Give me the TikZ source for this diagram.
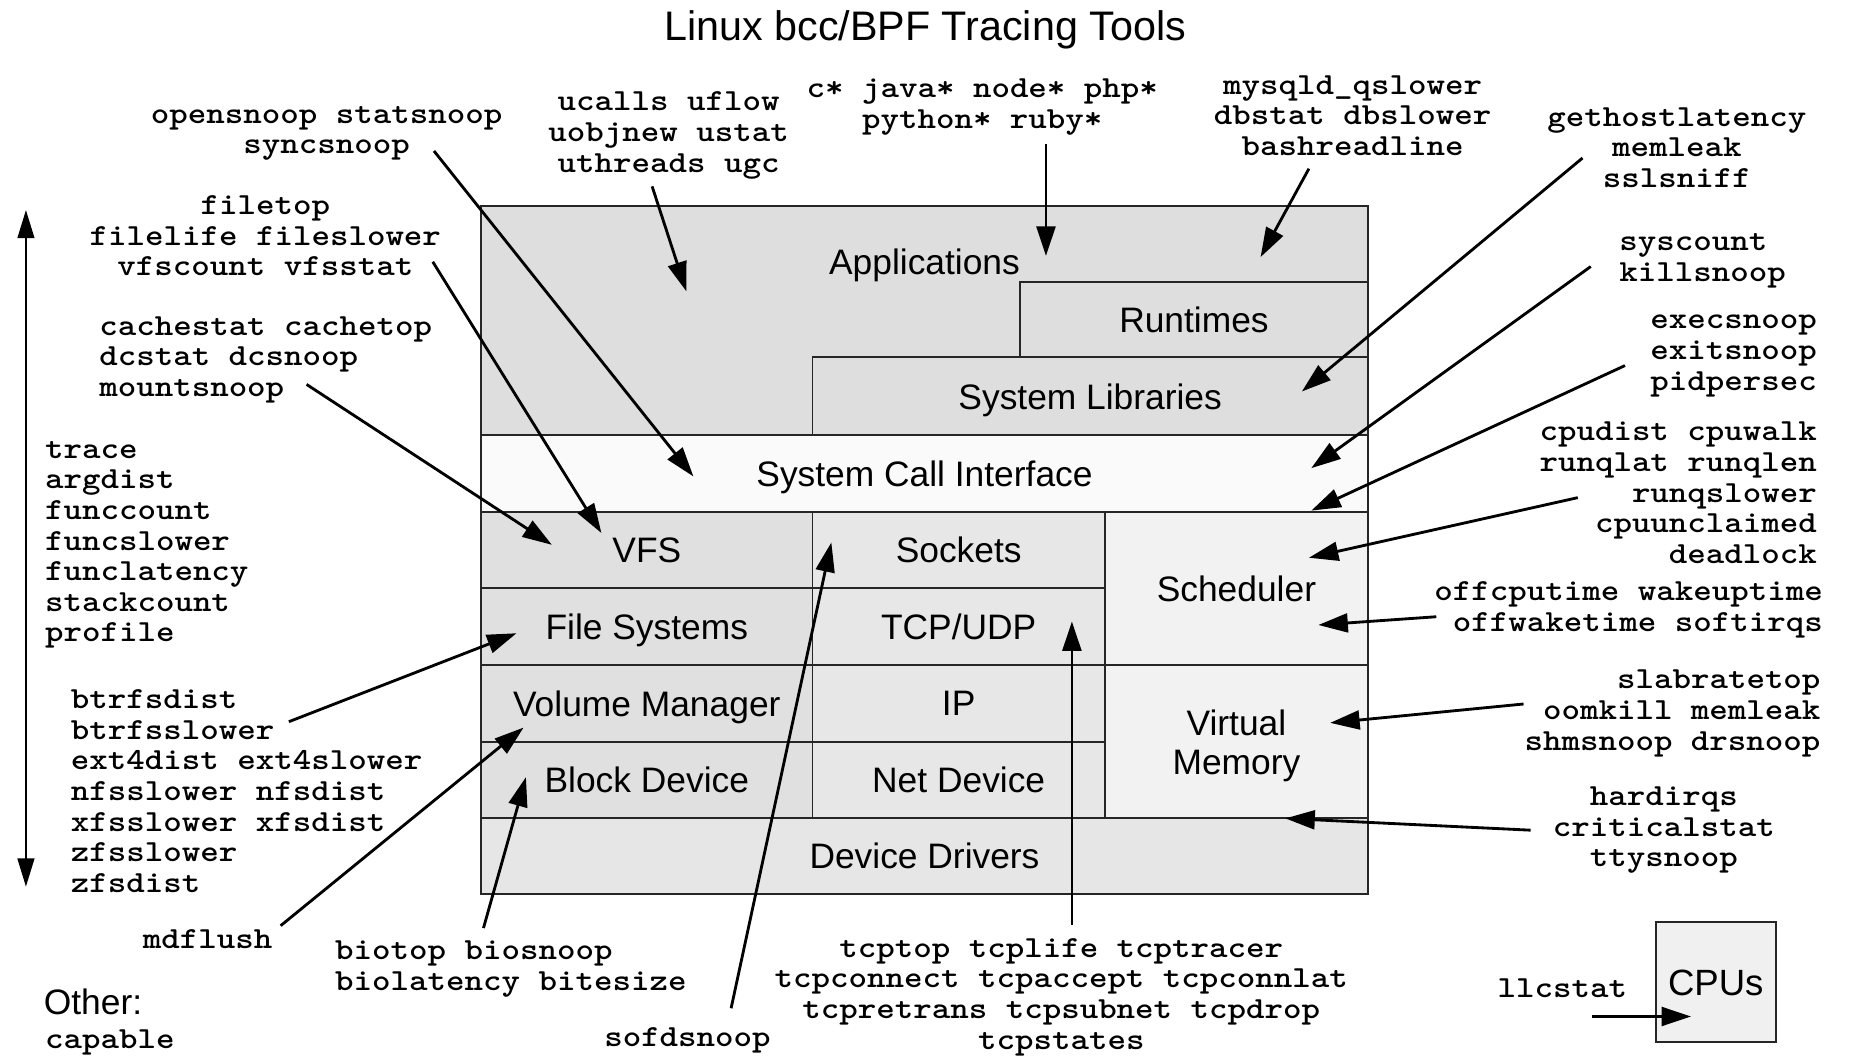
\documentclass[tikz,border=0pt]{standalone}
\usepackage{fontspec}
\setmainfont{Liberation Sans}
\newfontfamily\tooltt{Latin Modern Mono Light}[FakeStretch=1.149]
\usetikzlibrary{arrows.meta}
\definecolor{appgray}{HTML}{DEDEDE}
\definecolor{scigray}{HTML}{FAFAFA}
\definecolor{fsgray}{HTML}{E0E0E0}
\definecolor{netgray}{HTML}{E7E7E7}
\definecolor{schgray}{HTML}{F2F2F2}
\definecolor{drvgray}{HTML}{E6E6E6}
\definecolor{cpugray}{HTML}{F0F0F0}
\begin{document}
\begin{tikzpicture}[x=1pt,y=-1pt,
  layer/.style={draw=black!85, line width=1.6pt, rectangle, inner sep=0pt, font=\fontsize{30}{33}\selectfont, align=center, text depth=0pt},
  tool/.style={inner sep=0pt, font=\fontsize{26}{26}\selectfont\tooltt\bfseries},
  ml/.style={yshift=-3pt},
  sanslabel/.style={inner sep=0pt, font=\fontsize{30}{33}\selectfont},
  arr/.style={line width=2.4pt, -{Triangle[length=25pt,width=16pt]}},
]
\useasboundingbox (0,0) rectangle (1568,895);

% title
\node[inner sep=0pt, text depth=0pt, font=\fontsize{35}{38}\selectfont] (title) at (784.5,22) {Linux bcc/BPF Tracing Tools};

% stack layers
\node[layer, fill=appgray, minimum width=752pt, minimum height=194pt] (apps) at (784,272) {};
\node[sanslabel, text depth=0pt] (appstext) at (784,222) {Applications};
\node[layer, fill=appgray, minimum width=295pt, minimum height=64pt] (rt) at (1012.5,271) {Runtimes};
\node[layer, fill=appgray, minimum width=471pt, minimum height=66pt] (slib) at (924.5,336) {System Libraries};
\node[layer, fill=scigray, minimum width=752pt, minimum height=65pt] (sci) at (784,401.5) {System Call Interface};
\node[layer, fill=fsgray, minimum width=281pt, minimum height=65pt] (vfs) at (548.5,466.5) {VFS};
\node[layer, fill=fsgray, minimum width=281pt, minimum height=65pt] (fs) at (548.5,531.5) {File Systems};
\node[layer, fill=fsgray, minimum width=281pt, minimum height=65pt] (vm) at (548.5,596.5) {Volume Manager};
\node[layer, fill=fsgray, minimum width=281pt, minimum height=65pt] (bd) at (548.5,661.5) {Block Device};
\node[layer, fill=netgray, minimum width=248pt, minimum height=65pt] (sock) at (813,466.5) {Sockets};
\node[layer, fill=netgray, minimum width=248pt, minimum height=65pt] (tcpudp) at (813,531.5) {TCP/UDP};
\node[layer, fill=netgray, minimum width=248pt, minimum height=65pt] (ip) at (813,596.5) {IP};
\node[layer, fill=netgray, minimum width=248pt, minimum height=65pt] (nd) at (813,661.5) {Net Device};
\node[layer, fill=schgray, minimum width=223pt, minimum height=130pt] (sched) at (1048.5,499) {Scheduler};
\node[layer, fill=schgray, minimum width=223pt, minimum height=130pt] (virt) at (1048.5,629) {Virtual\\Memory};
\node[layer, fill=drvgray, minimum width=752pt, minimum height=64pt] (drv) at (784,726) {Device Drivers};
\node[layer, fill=cpugray, minimum width=102pt, minimum height=102pt, font=\fontsize{31}{33}\selectfont] (cpus) at (1455,833) {CPUs};

% tool labels
\node[tool, ml, align=center] (topen) at (277,110) {opensnoop statsnoop\\syncsnoop};
\node[tool, ml, align=center] (tfile) at (225,197) {filetop\\filelife fileslower\\vfscount vfsstat};
\node[tool, ml, align=left, anchor=west] (tcache) at (84,302) {cachestat cachetop\\dcstat dcsnoop\\mountsnoop};
\node[tool, ml, align=left, anchor=west] (ttrace) at (38,459) {trace\\argdist\\funccount\\funcslower\\funclatency\\stackcount\\profile};
\node[tool, ml, align=left, anchor=west] (tbtrfs) at (60,668) {btrfsdist\\btrfsslower\\ext4dist ext4slower\\nfsslower nfsdist\\xfsslower xfsdist\\zfsslower\\zfsdist};
\node[tool] (tmd) at (176,796) {mdflush};
\node[tool, ml, align=left, anchor=west] (tbio) at (284,819) {biotop biosnoop\\biolatency bitesize};
\node[tool] (tsofd) at (583,882) {sofdsnoop};
\node[tool, ml, align=center] (ttcp) at (900,842.5) {tcptop tcplife tcptracer\\tcpconnect tcpaccept tcpconnlat\\tcpretrans tcpsubnet tcpdrop\\tcpstates};
\node[tool] (tllc) at (1325,838) {llcstat};
\node[tool, ml, align=center] (thard) at (1411,701) {hardirqs\\criticalstat\\ttysnoop};
\node[tool, ml, align=right, anchor=east] (tslab) at (1544,602) {slabratetop\\oomkill memleak\\shmsnoop drsnoop};
\node[tool, ml, align=right, anchor=east] (toff) at (1546,514) {offcputime wakeuptime\\offwaketime softirqs};
\node[tool, ml, align=right, anchor=east] (tcpu) at (1541,415) {cpudist cpuwalk\\runqlat runqlen\\runqslower\\cpuunclaimed\\deadlock};
\node[tool, ml, align=right, anchor=east] (texec) at (1541,299) {execsnoop\\exitsnoop\\pidpersec};
\node[tool, ml, align=left, anchor=west] (tsys) at (1373,218) {syscount\\killsnoop};
\node[tool, ml, align=center] (tget) at (1422,122) {gethostlatency\\memleak\\sslsniff};
\node[tool, ml, align=center] (tmysql) at (1147,95) {mysqld\_qslower\\dbstat dbslower\\bashreadline};
\node[tool, ml, align=center] (tjava) at (833,88) {c* java* node* php*\\python* ruby*};
\node[tool, ml, align=center] (tucalls) at (567,112) {ucalls uflow\\uobjnew ustat\\uthreads ugc};
\node[sanslabel, anchor=west] (tother) at (37,850) {Other:};
\node[tool, anchor=west] (tcap) at (38,884) {capable};

% connector end points
\coordinate (a1s) at (368,128);  \coordinate (a1e) at (588,404);
\coordinate (a2s) at (553,158);  \coordinate (a2e) at (582,247);
\coordinate (a3s) at (887,122);  \coordinate (a3e) at (887,217);
\coordinate (a4s) at (1110,143); \coordinate (a4e) at (1069,218);
\coordinate (a5s) at (1342,134); \coordinate (a5e) at (1104,332);
\coordinate (a6s) at (1349,226); \coordinate (a6e) at (1112,397);
\coordinate (a7s) at (1378,310); \coordinate (a7e) at (1112,433);
\coordinate (a8s) at (1338,422); \coordinate (a8e) at (1110,473);
\coordinate (a9s) at (1218,523); \coordinate (a9e) at (1118,530);
\coordinate (a10s) at (1292,597); \coordinate (a10e) at (1128,613);
\coordinate (a11s) at (1298,704); \coordinate (a11e) at (1090,694);
\coordinate (a12s) at (1350,862); \coordinate (a12e) at (1434,862);
\coordinate (a13s) at (909,784); \coordinate (a13e) at (909,527);
\coordinate (a14s) at (620,855); \coordinate (a14e) at (705,460);
\coordinate (a15s) at (410,787); \coordinate (a15e) at (446,659);
\coordinate (a16s) at (238,785); \coordinate (a16e) at (444,617);
\coordinate (a17s) at (245,612); \coordinate (a17e) at (438,537);
\coordinate (a18s) at (260,326); \coordinate (a18e) at (468,462);
\coordinate (a19s) at (367,222); \coordinate (a19e) at (510,452);
\coordinate (vtop) at (22,178); \coordinate (vbot) at (22,752);

\foreach \i in {1,...,19} {\draw[arr] (a\i s) -- (a\i e);}
\draw[line width=2.4pt, {Triangle[length=24pt,width=14pt]}-{Triangle[length=24pt,width=14pt]}] (vtop) -- (vbot);
\end{tikzpicture}
\end{document}
